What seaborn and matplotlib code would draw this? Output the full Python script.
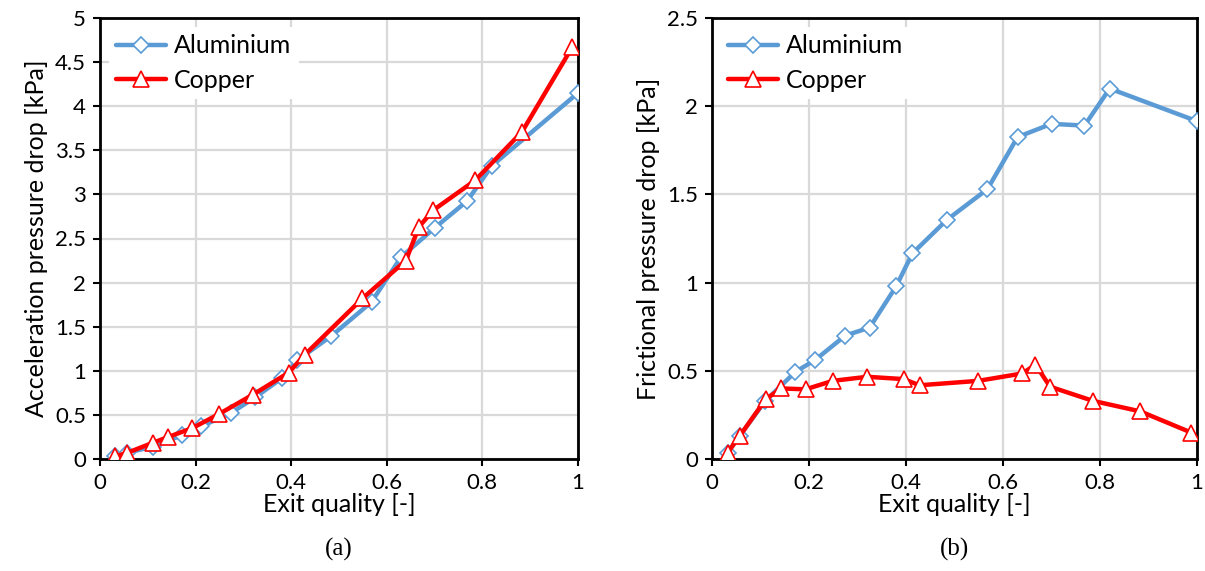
import matplotlib
matplotlib.use("Agg")
import matplotlib.pyplot as plt
import seaborn as sns
import numpy as np
from matplotlib.ticker import FuncFormatter

# ---------------- data ----------------
al_x = [0.032, 0.057, 0.11, 0.172, 0.212, 0.275, 0.325, 0.38, 0.413, 0.484, 0.568, 0.63, 0.70, 0.768, 0.82, 1.0]
al_acc = [0.03, 0.07, 0.14, 0.27, 0.37, 0.525, 0.70, 0.915, 1.12, 1.395, 1.78, 2.29, 2.62, 2.925, 3.325, 4.15]
al_fric = [0.035, 0.13, 0.33, 0.494, 0.56, 0.70, 0.745, 0.98, 1.165, 1.355, 1.53, 1.825, 1.90, 1.89, 2.10, 1.915]

cu_x = [0.032, 0.057, 0.111, 0.143, 0.193, 0.249, 0.32, 0.395, 0.428, 0.549, 0.640, 0.667, 0.697, 0.785, 0.883, 0.988]
cu_acc = [0.03, 0.07, 0.185, 0.25, 0.35, 0.51, 0.73, 0.98, 1.18, 1.82, 2.25, 2.63, 2.82, 3.16, 3.71, 4.67]
cu_fric = [0.035, 0.13, 0.34, 0.40, 0.395, 0.443, 0.466, 0.453, 0.418, 0.443, 0.485, 0.535, 0.41, 0.33, 0.27, 0.15]

x_ticks = [0, 0.2, 0.4, 0.6, 0.8, 1]
acc_ticks = [0, 0.5, 1, 1.5, 2, 2.5, 3, 3.5, 4, 4.5, 5]
fric_ticks = [0, 0.5, 1, 1.5, 2, 2.5]

series_names = ["Aluminium", "Copper"]

# ---------------- style ----------------
sns.set_theme(style="white")
plt.rcParams["font.family"] = ["Lato", "DejaVu Sans"]

BLUE = "#5B9BD5"
RED = "#FF0000"

fig = plt.figure(figsize=(12.05, 5.71), dpi=100)
ax1 = fig.add_axes([100 / 1205, 112 / 571, 478 / 1205, 441 / 571])
ax2 = fig.add_axes([712 / 1205, 112 / 571, 485 / 1205, 441 / 571])

fmt = FuncFormatter(lambda v, p: f"{v:g}")


def draw(ax, al_y, cu_y, yticks, ylabel, panel):
    sns.lineplot(x=al_x, y=al_y, ax=ax, color=BLUE, lw=3.2, marker="D",
                 markersize=8, markerfacecolor="white", markeredgecolor=BLUE,
                 markeredgewidth=1.2, label=series_names[0], zorder=3)
    sns.lineplot(x=cu_x, y=cu_y, ax=ax, color=RED, lw=3.2, marker="^",
                 markersize=12, markerfacecolor="white", markeredgecolor=RED,
                 markeredgewidth=1.2, label=series_names[1], zorder=4)
    ax.set_xlim(0, 1)
    ax.set_ylim(yticks[0], yticks[-1])
    ax.set_xticks(x_ticks)
    ax.set_yticks(yticks)
    ax.xaxis.set_major_formatter(fmt)
    ax.yaxis.set_major_formatter(fmt)
    ax.grid(True, color="#d9d9d9", lw=1.6)
    ax.set_axisbelow(True)
    for s in ax.spines.values():
        s.set_color("black")
        s.set_linewidth(2)
        s.set_visible(True)
    ax.tick_params(axis="both", direction="out", length=5, width=1.5,
                   color="black", labelsize=16, labelcolor="black",
                   bottom=True, left=True, pad=5)
    ax.set_xlabel("Exit quality [-]", fontsize=18, color="black", labelpad=0)
    ax.set_ylabel(ylabel, fontsize=18, color="black", labelpad=5)
    leg = ax.legend(loc="upper left", fontsize=18, frameon=True, fancybox=False,
                    handlelength=2.0, borderaxespad=0.35, labelspacing=0.45,
                    handletextpad=0.3, borderpad=0.3)
    leg.get_frame().set_facecolor("white")
    leg.get_frame().set_edgecolor("none")
    leg.get_frame().set_alpha(1)
    for t in leg.get_texts():
        t.set_color("black")
    ax.text(0.5, -0.205, panel, transform=ax.transAxes, ha="center", va="center",
            fontsize=18, family=["Liberation Serif"], color="black")


draw(ax1, al_acc, cu_acc, acc_ticks, "Acceleration pressure drop [kPa]", "(a)")
draw(ax2, al_fric, cu_fric, fric_ticks, "Frictional pressure drop [kPa]", "(b)")

fig.savefig("out.png", dpi=100, facecolor="white")
